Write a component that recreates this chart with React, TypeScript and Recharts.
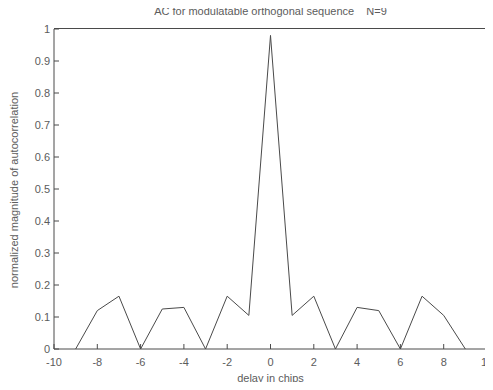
import React from 'react';
import { LineChart, Line, XAxis, YAxis } from 'recharts';

// autocorrelation magnitude per chip delay
const delays = [-9, -8, -7, -6, -5, -4, -3, -2, -1, 0, 1, 2, 3, 4, 5, 6, 7, 8, 9];
const magnitudes = [0, 0.12, 0.165, 0, 0.125, 0.13, 0, 0.165, 0.105, 0.98, 0.105, 0.165, 0, 0.13, 0.12, 0, 0.165, 0.105, 0];

const xTicks = [-10, -8, -6, -4, -2, 0, 2, 4, 6, 8, 10];
const yTicks = [0, 0.1, 0.2, 0.3, 0.4, 0.5, 0.6, 0.7, 0.8, 0.9, 1];

const data = delays.map((d, i) => ({ delay: d, mag: magnitudes[i] }));

const INK = '#4a4a4a';
const TEXT = '#5c5c5c';
const FONT = 'Liberation Sans, Arial, sans-serif';
const tickStyle = { fill: TEXT, fontSize: 11, fontFamily: FONT };

// plot box, must agree with the chart margins and axis sizes below
const W = 493;
const H = 390;
const M = { top: 29, right: 6 };
const Y_AXIS_W = 54;
const X_AXIS_H = 41;
const PLOT_CX = Y_AXIS_W + (W - M.right - Y_AXIS_W) / 2;

const App: React.FC = () => {
  return (
    <div style={{ position: 'relative', margin: -8, width: W, height: H, overflow: 'hidden', background: '#fff', fontFamily: FONT }}>
      <LineChart width={W} height={H} data={data} margin={{ top: M.top, right: M.right, left: 0, bottom: 0 }}>
        <XAxis
          dataKey="delay"
          type="number"
          domain={[-10, 10]}
          ticks={xTicks}
          height={X_AXIS_H}
          stroke={INK}
          tickSize={-5}
          tickMargin={14}
          tick={tickStyle}
        />
        <YAxis
          type="number"
          domain={[0, 1]}
          ticks={yTicks}
          width={Y_AXIS_W}
          stroke={INK}
          tickSize={-5}
          tickMargin={9}
          tick={tickStyle}
        />
        <Line
          type="linear"
          dataKey="mag"
          stroke={INK}
          strokeWidth={1}
          dot={false}
          isAnimationActive={false}
        />
      </LineChart>
      {/* top and right edges of the box */}
      <div
        style={{
          position: 'absolute',
          left: Y_AXIS_W,
          top: M.top - 1,
          width: W - M.right - Y_AXIS_W + 1,
          height: H - X_AXIS_H - M.top + 1,
          boxSizing: 'border-box',
          borderTop: `1px solid ${INK}`,
          borderRight: `1px solid ${INK}`,
          pointerEvents: 'none',
        }}
      />
      <div
        style={{
          position: 'absolute',
          top: 5,
          left: PLOT_CX,
          transform: 'translateX(-50%)',
          fontSize: 11,
          color: TEXT,
          whiteSpace: 'pre',
        }}
      >
        {'AC for modulatable orthogonal sequence    N=9'}
      </div>
      <div
        style={{
          position: 'absolute',
          top: 372,
          left: PLOT_CX,
          transform: 'translateX(-50%)',
          fontSize: 11,
          color: TEXT,
          whiteSpace: 'nowrap',
        }}
      >
        delay in chips
      </div>
      <div
        style={{
          position: 'absolute',
          left: 14,
          top: 190,
          transform: 'translate(-50%, -50%) rotate(-90deg)',
          fontSize: 11,
          color: TEXT,
          whiteSpace: 'nowrap',
        }}
      >
        normalized magnitude of autocorrelation
      </div>
    </div>
  );
};

export default App;
